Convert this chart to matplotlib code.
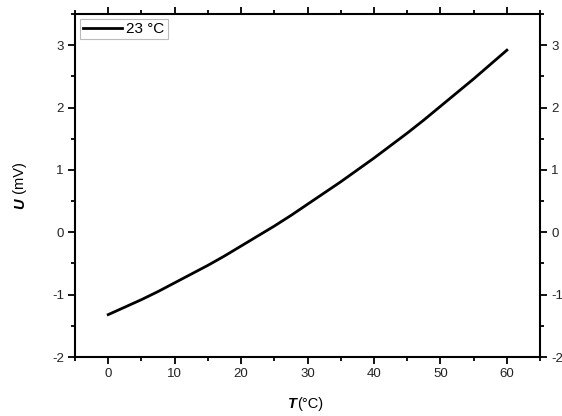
import matplotlib
matplotlib.use("Agg")
import matplotlib.pyplot as plt
from matplotlib.ticker import MultipleLocator

plt.rcParams['font.family'] = ['Liberation Sans', 'DejaVu Sans']
plt.rcParams['axes.unicode_minus'] = False

T = [0, 2.5, 5, 7.5, 10, 12.5, 15, 17.5, 20, 22.5, 25, 27.5, 30, 32.5, 35, 37.5,
     40, 42.5, 45, 47.5, 50, 52.5, 55, 57.5, 60]
U = [-1.32, -1.20, -1.08, -0.95, -0.81, -0.67, -0.53, -0.38, -0.22, -0.06, 0.10,
     0.27, 0.45, 0.63, 0.81, 1.00, 1.19, 1.39, 1.59, 1.80, 2.02, 2.24, 2.46,
     2.69, 2.92]
label = "23 \u00b0C"

fig = plt.figure(figsize=(5.62, 4.16), dpi=100)
ax = fig.add_axes([0.1335, 0.1418, 0.8275, 0.8245])
ax.plot(T, U, color='black', lw=2.0, label=label)
ax.set_xlim(-5, 65)
ax.set_ylim(-2, 3.5)
ax.xaxis.set_major_locator(MultipleLocator(10))
ax.xaxis.set_minor_locator(MultipleLocator(5))
ax.yaxis.set_major_locator(MultipleLocator(1))
ax.yaxis.set_minor_locator(MultipleLocator(0.5))
ax.tick_params(which='both', direction='out', top=True, right=True, labelright=True,
               labelsize=9.5, width=1.3, color='black', labelcolor='#222222')
ax.tick_params(which='major', length=5, pad=3)
ax.tick_params(which='minor', length=3)
for s in ax.spines.values():
    s.set_linewidth(1.5)

# axis labels with bold italic variable
fig.text(0.529, 0.02, "T", fontsize=10.5, fontweight='bold', fontstyle='italic',
         ha='right', va='baseline')
fig.text(0.529, 0.02, "(\u00b0C)", fontsize=10.5, ha='left', va='baseline')
fig.text(0.035, 0.524, "U", fontsize=10.5, fontweight='bold', fontstyle='italic',
         rotation=90, ha='center', va='top')
fig.text(0.035, 0.524, " (mV)", fontsize=10.5, rotation=90, ha='center', va='bottom')

leg = ax.legend(loc='upper left', fontsize=11, frameon=True, fancybox=False,
                handlelength=2.5, borderpad=0.2, borderaxespad=0.35,
                handletextpad=0.3)
leg.get_frame().set_edgecolor('#aaaaaa')
leg.get_frame().set_linewidth(0.8)
fig.savefig("out.png", dpi=100)
